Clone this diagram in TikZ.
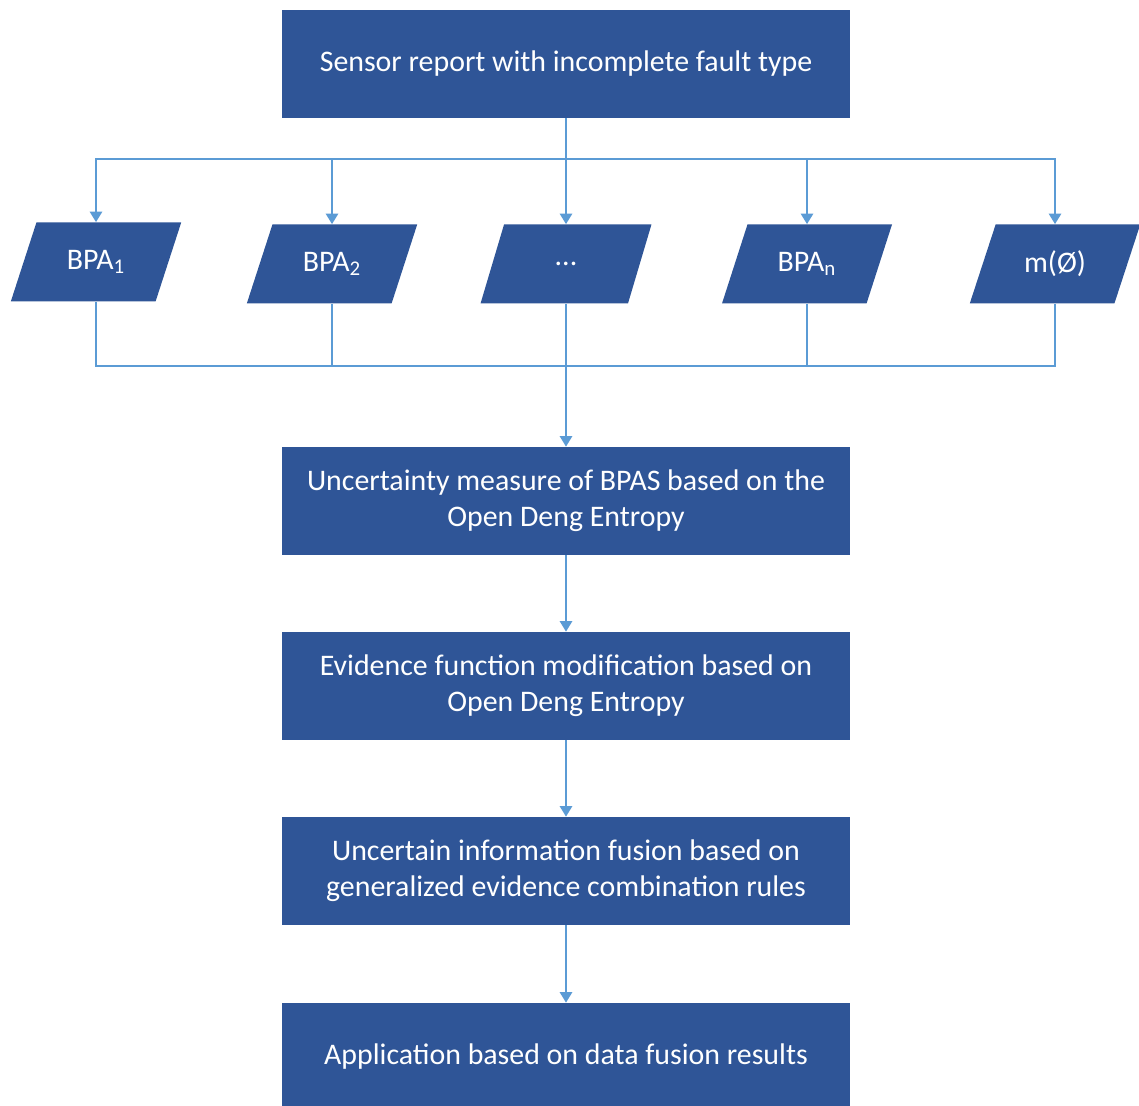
\documentclass[tikz,border=0pt]{standalone}
\usepackage{fontspec}
\setmainfont{Carlito}
\usepackage{tikz}
\usetikzlibrary{shapes.geometric, arrows.meta, calc}
\definecolor{boxblue}{HTML}{2F5597}
\definecolor{lineblue}{HTML}{5B9BD5}
\tikzset{
    stepbox/.style={rectangle, fill=boxblue, text=white, minimum width=11.36cm, minimum height=2.16cm, align=center, font=\fontsize{17}{20.5}\selectfont},
    bpa/.style={trapezium, trapezium left angle=67, trapezium right angle=113, trapezium stretches=true, fill=boxblue, text=white, minimum width=3.42cm, minimum height=1.58cm, font=\fontsize{17}{20.5}\selectfont},
    link/.style={draw=lineblue, line width=1.1pt},
    arr/.style={link, -{Triangle[width=7pt,length=6pt]}}
}

\begin{document}
\begin{tikzpicture}
\useasboundingbox (0,0) rectangle (22.78,-22.12);
\fill[white] (0,0) rectangle (22.78,-22.12);

\node[stepbox] (s) at (11.32,-1.28) {Sensor report with incomplete fault type};

\node[bpa] (b1) at (1.92,-5.24) {BPA\textsubscript{1}};
\node[bpa] (b2) at (6.64,-5.28) {BPA\textsubscript{2}};
\node[bpa] (b3) at (11.32,-5.28) {...};
\node[bpa] (bn) at (16.14,-5.28) {BPA\textsubscript{n}};
\node[bpa] (m) at (21.10,-5.28) {m(Ø)};

\node[stepbox] (u) at (11.32,-10.02) {Uncertainty measure of BPAS based on the\\Open Deng Entropy};
\node[stepbox] (e) at (11.32,-13.72) {Evidence function modification based on\\Open Deng Entropy};
\node[stepbox] (f) at (11.32,-17.42) {Uncertain information fusion based on\\generalized evidence combination rules};
\node[stepbox] (a) at (11.32,-21.14) {Application based on data fusion results};

\coordinate (top) at (11.32,-3.18);
\coordinate (bot) at (11.32,-7.32);

% split to the BPAs
\draw[link] (s) -- (top);
\foreach \n in {b1,b2,b3,bn,m}
    \draw[arr] (top) -| (\n);

% gather again
\foreach \n in {b1,b2,b3,bn,m}
    \draw[link] (\n) |- (bot);
\draw[arr] (bot) -- (u);

\draw[arr] (u) -- (e);
\draw[arr] (e) -- (f);
\draw[arr] (f) -- (a);
\end{tikzpicture}
\end{document}
